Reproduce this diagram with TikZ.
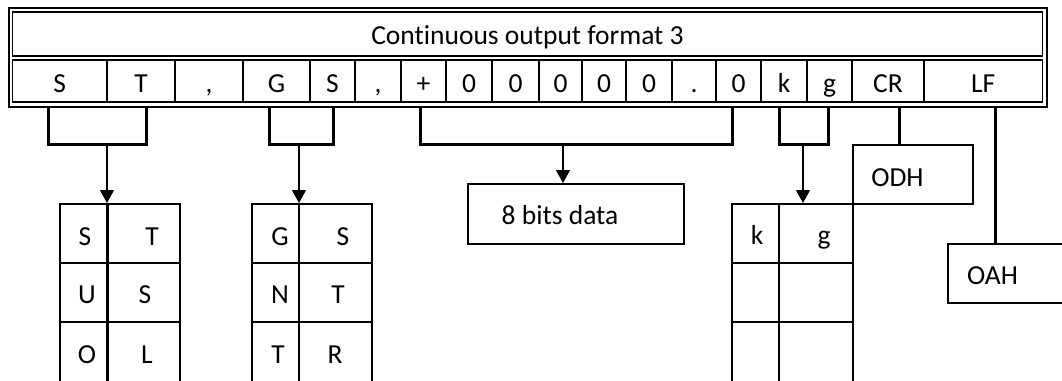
\documentclass[tikz,border=0pt]{standalone}
\usepackage{fontspec}
\setmainfont{Carlito}[Ligatures=NoCommon]
\usetikzlibrary{arrows.meta,calc}
\begin{document}
\begin{tikzpicture}[x=1bp,y=-1bp,
  font=\fontsize{27.5bp}{33bp}\selectfont,
  cell/.style={draw, line width=1.2bp, inner xsep=0pt, inner ysep=0pt,
    minimum height=42.3bp, text height=22.6bp, text depth=0pt},
  frameline/.style={line width=1.9bp},
  bracket/.style={line width=3bp},
  arr/.style={line width=1.3bp, -{Triangle[length=13bp,width=14bp]}},
  box/.style={draw, line width=1.8bp, inner sep=0pt},
  tline/.style={line width=1.8bp},
  txt/.style={inner sep=0pt, anchor=base}]
\fill[white] (0,0) rectangle (1062,380);
\clip (0,0) rectangle (1062,380);

% title and row cells
\node[cell, minimum width=1030bp, minimum height=43.4bp, text height=20bp] (title) at (527.5,34) {Continuous output format 3};
\node[cell, minimum width=94.5bp] (c1) at (59.75,81.15) {S};
\node[cell, minimum width=68bp] (c2) at (141,81.15) {T};
\node[cell, minimum width=68bp] (c3) at (209,81.15) {,};
\node[cell, minimum width=67bp] (c4) at (276.5,81.15) {G};
\node[cell, minimum width=45bp] (c5) at (332.5,81.15) {S};
\node[cell, minimum width=46bp] (c6) at (378,81.15) {,};
\node[cell, minimum width=45bp] (c7) at (423.5,81.15) {+};
\node[cell, minimum width=46bp] (c8) at (469,81.15) {0};
\node[cell, minimum width=47bp] (c9) at (515.5,81.15) {0};
\node[cell, minimum width=43bp] (c10) at (560.5,81.15) {0};
\node[cell, minimum width=44bp] (c11) at (604,81.15) {0};
\node[cell, minimum width=46bp] (c12) at (649,81.15) {0};
\node[cell, minimum width=44bp] (c13) at (694,81.15) {.};
\node[cell, minimum width=45bp] (c14) at (738.5,81.15) {0};
\node[cell, minimum width=46bp] (c15) at (784,81.15) {k};
\node[cell, minimum width=45bp] (c16) at (829.5,81.15) {g};
\node[cell, minimum width=72bp] (c17) at (888,81.15) {CR};
\node[cell, minimum width=118.5bp] (c18) at (983.25,81.15) {LF};

% double frame
\node[draw, frameline, inner sep=0pt, minimum width=1038bp, minimum height=99bp] (frame) at (528,57.5) {};
\draw[frameline] (12.5,12.3) rectangle (1042.5,55.7);
\draw[frameline] (12.5,60) rectangle (1042.5,102.3);

% lower boxes
\node[box, minimum width=120bp, minimum height=220bp, anchor=north west] (t1) at (59,203) {};
\node[box, minimum width=120bp, minimum height=220bp, anchor=north west] (t2) at (251,203) {};
\node[box, minimum width=121bp, minimum height=220bp, anchor=north west] (t3) at (731,203) {};
\node[box, minimum width=216bp, minimum height=60bp, anchor=north west] (b8) at (467,183) {};
\node[box, minimum width=120bp, minimum height=59bp, anchor=north west] (odh) at (852,144) {};
\node[box, minimum width=150bp, minimum height=59bp, anchor=north west] (oah) at (947,243) {};

% table grids
\draw[line width=3bp] (t1.north -| 107,0) -- (107,400);
\draw[tline] (t2.north -| 299,0) -- (299,400);
\draw[tline] (t3.north -| 779,0) -- (779,400);
\foreach \yy in {263,322} {
  \draw[tline] (t1.west |- 0,\yy) -- (t1.east |- 0,\yy);
  \draw[tline] (t2.west |- 0,\yy) -- (t2.east |- 0,\yy);
  \draw[tline] (t3.west |- 0,\yy) -- (t3.east |- 0,\yy);
}

% texts in lower boxes
\node[txt] (s1) at (85,245.5) {S};
\node[txt] (s2) at (152,245.5) {T};
\node[txt] (s3) at (87,303.5) {U};
\node[txt] (s4) at (145,303.5) {S};
\node[txt] (s5) at (87,363.5) {O};
\node[txt] (s6) at (147,363.5) {L};
\node[txt] (g1) at (280,245.5) {G};
\node[txt] (g2) at (343,245.5) {S};
\node[txt] (g3) at (280,303.5) {N};
\node[txt] (g4) at (338,303.5) {T};
\node[txt] (g5) at (278,363.5) {T};
\node[txt] (g6) at (335,363.5) {R};
\node[txt] (k1) at (757,244.5) {k};
\node[txt] (k2) at (824,244.5) {g};
\node[txt] (d8) at (560,224) {8 bits data};
\node[txt] (dh) at (897.5,186) {ODH};
\node[txt] (ah) at (992.5,284) {OAH};

% brackets and arrows
\coordinate (b1l) at (48,144);  \coordinate (b1r) at (146,144); \coordinate (b1m) at (107,144);
\coordinate (b2l) at (269,144); \coordinate (b2r) at (333,144); \coordinate (b2m) at (299,144);
\coordinate (b3l) at (420,144); \coordinate (b3r) at (732,144); \coordinate (b3m) at (563,144);
\coordinate (b4l) at (779,144); \coordinate (b4r) at (828,144); \coordinate (b4m) at (803,144);
\coordinate (crx) at (899,0);
\coordinate (lfx) at (995,0);

\draw[bracket] (b1l |- frame.south) -- (b1l) -- (b1r) -- (b1r |- frame.south);
\draw[bracket] (b2l |- frame.south) -- (b2l) -- (b2r) -- (b2r |- frame.south);
\draw[bracket] (b3l |- frame.south) -- (b3l) -- (b3r) -- (b3r |- frame.south);
\draw[bracket] (b4l |- frame.south) -- (b4l) -- (b4r) -- (b4r |- frame.south);
\draw[bracket] (crx |- frame.south) -- (crx |- odh.north);
\draw[bracket] (lfx |- frame.south) -- (lfx |- oah.north);

\draw[arr] (b1m) -- (b1m |- t1.north);
\draw[arr] (b2m) -- (b2m |- t2.north);
\draw[arr] (b3m) -- (b3m |- b8.north);
\draw[arr] (b4m) -- (b4m |- t3.north);
\end{tikzpicture}
\end{document}
